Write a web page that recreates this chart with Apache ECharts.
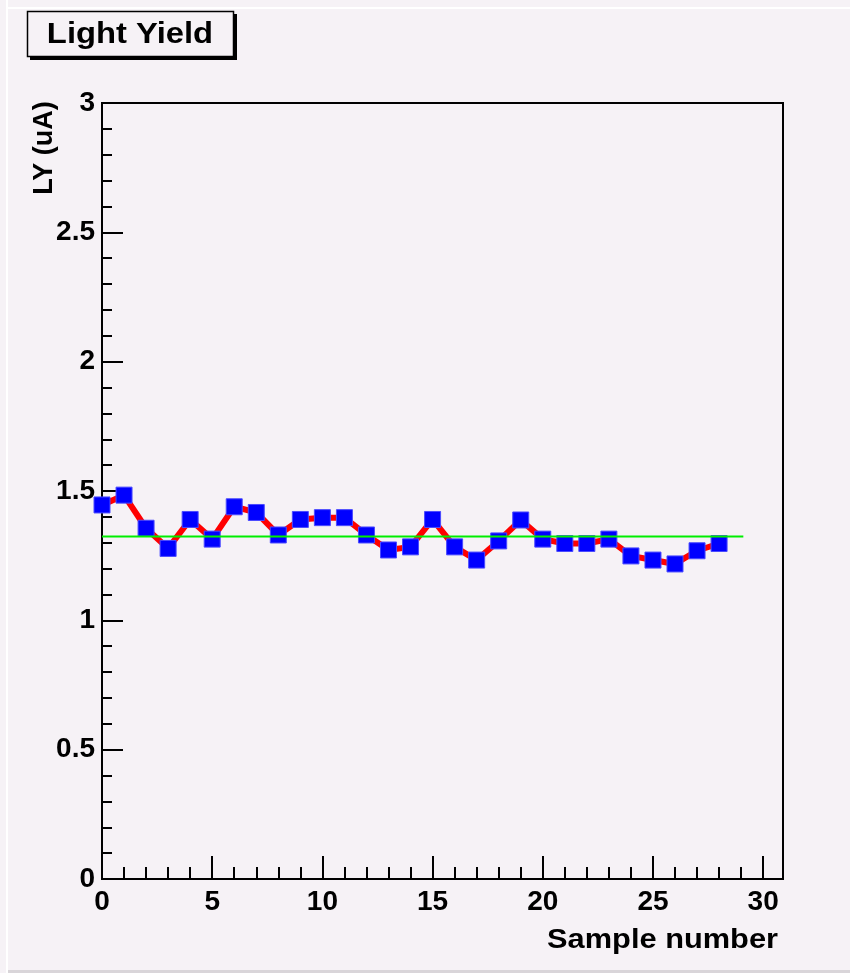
<!DOCTYPE html>
<html>
<head>
<meta charset="utf-8">
<script src="https://cdn.jsdelivr.net/npm/echarts@6/dist/echarts.min.js"></script>
<style>
html,body{margin:0;padding:0;background:#f6f2f6;}
#chart{width:850px;height:973px;}
</style>
</head>
<body>
<div id="chart"></div>
<script>
// ---- data ----
const sampleNumbers = [0,1,2,3,4,5,6,7,8,9,10,11,12,13,14,15,16,17,18,19,20,21,22,23,24,25,26,27,28];
const lightYield = [1.446,1.484,1.356,1.278,1.390,1.314,1.439,1.417,1.330,1.390,1.397,1.397,1.330,1.272,1.284,1.390,1.284,1.233,1.307,1.388,1.314,1.297,1.297,1.314,1.249,1.233,1.218,1.269,1.297];
const meanLineX = [0, 29.1];
const meanLineY = [1.324, 1.324];
const xMajorTicks = [0,5,10,15,20,25,30];
const xMinorTicks = [1,2,3,4,6,7,8,9,11,12,13,14,16,17,18,19,21,22,23,24,26,27,28,29];
const titleText = 'Light Yield';
const xTitle = 'Sample number';
const yTitle = 'LY (uA)';

const FONT = '"Liberation Sans", Arial, Helvetica, sans-serif';
const chart = echarts.init(document.getElementById('chart'), null, {renderer: 'canvas'});

const gridLeft = 102, gridTop = 103, gridRight = 850 - 783, gridBottom = 973 - 879;
const gridHeight = 973 - gridTop - gridBottom;

const option = {
  backgroundColor: '#f6f2f6',
  animation: false,
  grid: {
    left: gridLeft, top: gridTop, right: gridRight, bottom: gridBottom,
    show: true, borderColor: '#000', borderWidth: 2, backgroundColor: 'transparent'
  },
  xAxis: [{
    type: 'value', position: 'bottom', min: 0, max: 30.9, interval: 5,
    axisLine: {show: true, onZero: false, lineStyle: {color: '#000', width: 2}},
    axisTick: {show: true, inside: true, length: 23, customValues: xMajorTicks, lineStyle: {color: '#000', width: 2}},
    axisLabel: {show: true, customValues: xMajorTicks, color: '#000', fontFamily: FONT, fontWeight: 'bold', fontSize: 28, margin: 9},
    splitLine: {show: false}
  }, {
    type: 'value', position: 'top', offset: -gridHeight, min: 0, max: 30.9, interval: 1,
    axisLine: {show: false},
    axisTick: {show: true, inside: false, length: 12, customValues: xMinorTicks, lineStyle: {color: '#000', width: 2}},
    axisLabel: {show: false},
    splitLine: {show: false}
  }],
  yAxis: {
    type: 'value', min: 0, max: 3, interval: 0.5,
    axisLine: {show: true, onZero: false, lineStyle: {color: '#000', width: 2}},
    axisTick: {show: true, inside: true, length: 21, lineStyle: {color: '#000', width: 2}},
    minorTick: {show: true, splitNumber: 5, length: 10, lineStyle: {color: '#000', width: 2}},
    axisLabel: {color: '#000', fontFamily: FONT, fontWeight: 'bold', fontSize: 28, margin: 7},
    splitLine: {show: false}
  },
  series: [{
    type: 'line',
    name: 'LY',
    data: sampleNumbers.map((x, i) => [x, lightYield[i]]),
    lineStyle: {color: '#ff0000', width: 6},
    symbol: 'rect', symbolSize: 16,
    itemStyle: {color: '#0000ff', borderColor: '#4a4aff', borderWidth: 1},
    z: 2
  }, {
    type: 'line',
    name: 'mean',
    data: meanLineX.map((x, i) => [x, meanLineY[i]]),
    lineStyle: {color: '#00ee00', width: 2},
    symbol: 'none',
    z: 3
  }],
  graphic: [
    // outer page decorations
    {type: 'rect', shape: {x: 6, y: 0, width: 2, height: 973}, style: {fill: '#ffffff'}, silent: true},
    {type: 'rect', shape: {x: 8, y: 7, width: 842, height: 2}, style: {fill: '#ffffff'}, silent: true},
    {type: 'rect', shape: {x: 8, y: 970, width: 842, height: 3}, style: {fill: '#d9d5d9'}, silent: true},
    // title box with shadow
    {type: 'rect', shape: {x: 30, y: 14, width: 207, height: 46}, style: {fill: '#000'}, silent: true, z: 10},
    {type: 'rect', shape: {x: 27.5, y: 11.5, width: 206, height: 45}, style: {fill: '#f6f2f6', stroke: '#000', lineWidth: 1.5}, silent: true, z: 11},
    {type: 'text', x: 130, y: 35, scaleX: 1.13, z: 12, style: {text: titleText, fill: '#000', font: 'bold 29px ' + FONT, textAlign: 'center', textVerticalAlign: 'middle'}},
    // axis titles
    {type: 'text', x: 778, y: 941, scaleX: 1.14, z: 12, style: {text: xTitle, fill: '#000', font: 'bold 27px ' + FONT, textAlign: 'right', textVerticalAlign: 'middle'}},
    {type: 'text', x: 45, y: 148, rotation: Math.PI / 2, z: 12, style: {text: yTitle, fill: '#000', font: 'bold 27px ' + FONT, textAlign: 'center', textVerticalAlign: 'middle'}}
  ]
};
chart.setOption(option);
</script>
</body>
</html>
